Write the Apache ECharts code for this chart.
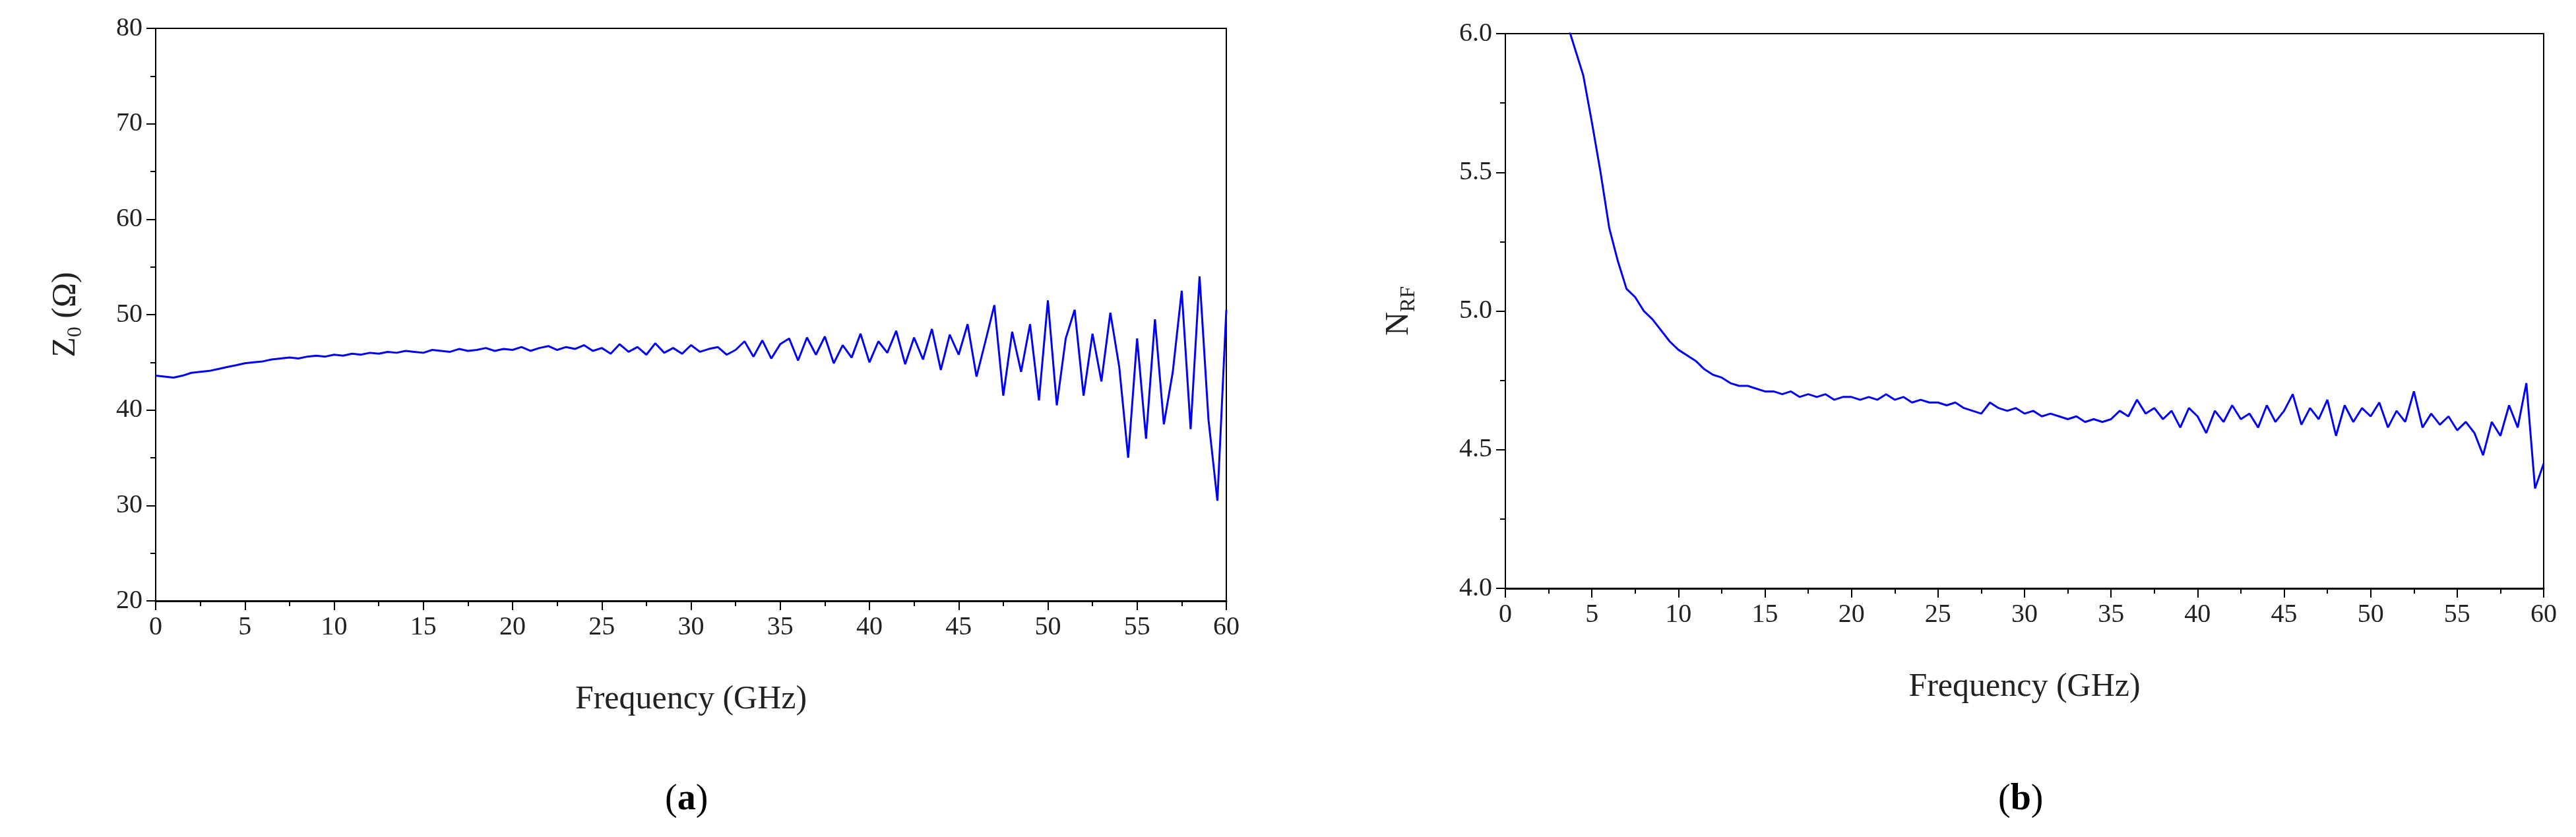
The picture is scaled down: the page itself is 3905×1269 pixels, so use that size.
<!DOCTYPE html>
<html lang="en" style="height: 100%">
<head>
  <meta charset="utf-8">
</head>
<body style="height: 100%; margin: 0; background: #fff">
  <div id="container" style="width: 3905px; height: 1269px"></div>
  <script src="https://cdn.jsdelivr.net/npm/echarts@6/dist/echarts.min.js"></script>
  <script>
    // sample spacing of both traces (GHz)
    var step = 0.5;

    // (a) characteristic impedance Z0, 0 .. 60 GHz
    var z0Start = 0;
    var z0Values = [
      43.6, 43.5, 43.4, 43.6, 43.9, 44.0, 44.1, 44.3, 44.5, 44.7, 44.9, 45.0, 45.1, 45.3, 45.4, 45.5, 45.4, 45.6, 45.7, 45.6, 45.8,
      45.7, 45.9, 45.8, 46.0, 45.9, 46.1, 46.0, 46.2, 46.1, 46.0, 46.3, 46.2, 46.1, 46.4, 46.2, 46.3, 46.5, 46.2, 46.4,
      46.3, 46.6, 46.2, 46.5, 46.7, 46.3, 46.6, 46.4, 46.8, 46.2, 46.5, 45.9, 46.9, 46.1, 46.6, 45.8, 47.0, 46.0, 46.5,
      45.9, 46.8, 46.1, 46.4, 46.6, 45.8, 46.3, 47.2, 45.6, 47.3, 45.4, 46.9, 47.5, 45.2, 47.6, 45.8, 47.7, 44.9, 46.8,
      45.5, 48.0, 45.0, 47.2, 46.0, 48.3, 44.8, 47.6, 45.3, 48.5, 44.2, 47.9, 45.8, 49.0, 43.5, 47.2, 51.0, 41.5, 48.2,
      44.0, 49.0, 41.0, 51.5, 40.5, 47.5, 50.5, 41.5, 48.0, 43.0, 50.2, 44.5, 35.0, 47.5, 37.0, 49.5, 38.5,
      44.0, 52.5, 38.0, 54.0, 39.0, 30.5, 50.5
    ];

    // (b) RF index N_RF, 3.5 .. 60 GHz
    var nrfStart = 3.5;
    var nrfValues = [
      6.05, 5.95, 5.85, 5.68, 5.50, 5.30, 5.18, 5.08, 5.05, 5.00, 4.97, 4.93, 4.89, 4.86, 4.84, 4.82, 4.79, 4.77, 4.76, 4.74,
      4.73, 4.73, 4.72, 4.71, 4.71, 4.70, 4.71, 4.69, 4.70, 4.69, 4.70, 4.68, 4.69, 4.69, 4.68, 4.69, 4.68, 4.70, 4.68, 4.69,
      4.67, 4.68, 4.67, 4.67, 4.66, 4.67, 4.65, 4.64, 4.63, 4.67, 4.65, 4.64, 4.65, 4.63, 4.64, 4.62, 4.63, 4.62, 4.61, 4.62,
      4.60, 4.61, 4.60, 4.61, 4.64, 4.62, 4.68, 4.63, 4.65, 4.61, 4.64, 4.58, 4.65, 4.62, 4.56, 4.64, 4.60, 4.66, 4.61, 4.63,
      4.58, 4.66, 4.60, 4.64, 4.70, 4.59, 4.65, 4.61, 4.68, 4.55, 4.66, 4.60, 4.65, 4.62, 4.67, 4.58, 4.64, 4.60, 4.71, 4.58,
      4.63, 4.59, 4.62, 4.57, 4.60, 4.56, 4.48, 4.60, 4.55, 4.66, 4.58, 4.74, 4.36, 4.45
    ];

    function pairs(start, values) {
      return values.map(function (v, i) { return [start + i * step, v]; });
    }

    var font = 'Liberation Serif';
    var dom = document.getElementById('container');
    var chart = echarts.init(dom, null, { renderer: 'canvas' });

    function xAxis(idx) {
      return {
        type: 'value', gridIndex: idx, min: 0, max: 60, interval: 5,
        name: 'Frequency (GHz)', nameLocation: 'middle', nameGap: 125,
        nameTextStyle: { fontFamily: font, fontSize: 50, color: '#222' },
        axisLine: { lineStyle: { color: '#000', width: 3 } },
        axisTick: { length: 14, lineStyle: { color: '#000', width: 2 } },
        minorTick: { show: true, splitNumber: 2, length: 8, lineStyle: { color: '#000', width: 2 } },
        axisLabel: { fontFamily: font, fontSize: 40, color: '#222', margin: 20 },
        splitLine: { show: false }
      };
    }

    function yAxis(idx, min, max, interval, fmt, nameRich, nameText, gap) {
      return {
        type: 'value', gridIndex: idx, min: min, max: max, interval: interval,
        name: nameText, nameLocation: 'middle', nameGap: gap, nameRotate: 90,
        nameTextStyle: { fontFamily: font, fontSize: 50, color: '#222', rich: nameRich },
        axisLine: { show: true, lineStyle: { color: '#000', width: 2 } },
        axisTick: { length: 14, lineStyle: { color: '#000', width: 2 } },
        minorTick: { show: true, splitNumber: 2, length: 8, lineStyle: { color: '#000', width: 2 } },
        axisLabel: { fontFamily: font, fontSize: 40, color: '#222', margin: 20, formatter: fmt },
        splitLine: { show: false }
      };
    }

    var rich = {
      b: { fontFamily: font, fontSize: 50, color: '#222' },
      s: { fontFamily: font, fontSize: 32, color: '#222', verticalAlign: 'bottom', padding: [30, 0, 0, 0] }
    };
    var capRich = {
      p: { fontFamily: font, fontSize: 56, color: '#222' },
      l: { fontFamily: font, fontSize: 56, fontWeight: 'bold', color: '#222' }
    };

    chart.setOption({
      animation: false,
      backgroundColor: '#fff',
      grid: [
        { left: 236, right: 2046, top: 43, bottom: 358, show: true, borderColor: '#000', borderWidth: 2 },
        { left: 2282, right: 49, top: 51, bottom: 377, show: true, borderColor: '#000', borderWidth: 2 }
      ],
      xAxis: [xAxis(0), xAxis(1)],
      yAxis: [
        yAxis(0, 20, 80, 10, '{value}', rich, '{b|Z}{s|0}{b| (Ω)}', 105),
        yAxis(1, 4.0, 6.0, 0.5, function (v) { return v.toFixed(1); }, rich, '{b|N}{s|RF}', 130)
      ],
      graphic: [
        { type: 'text', left: 1008, top: 1185, style: { text: '{p|(}{l|a}{p|)}', rich: capRich } },
        { type: 'text', left: 3029, top: 1185, style: { text: '{p|(}{l|b}{p|)}', rich: capRich } }
      ],
      series: [
        {
          type: 'line', xAxisIndex: 0, yAxisIndex: 0, data: pairs(z0Start, z0Values),
          showSymbol: false, clip: true, lineStyle: { color: '#0000ff', width: 3 }
        },
        {
          type: 'line', xAxisIndex: 1, yAxisIndex: 1, data: pairs(nrfStart, nrfValues),
          showSymbol: false, clip: true, lineStyle: { color: '#0000ff', width: 3 }
        }
      ]
    });

    window.addEventListener('resize', chart.resize);
  </script>
</body>
</html>
